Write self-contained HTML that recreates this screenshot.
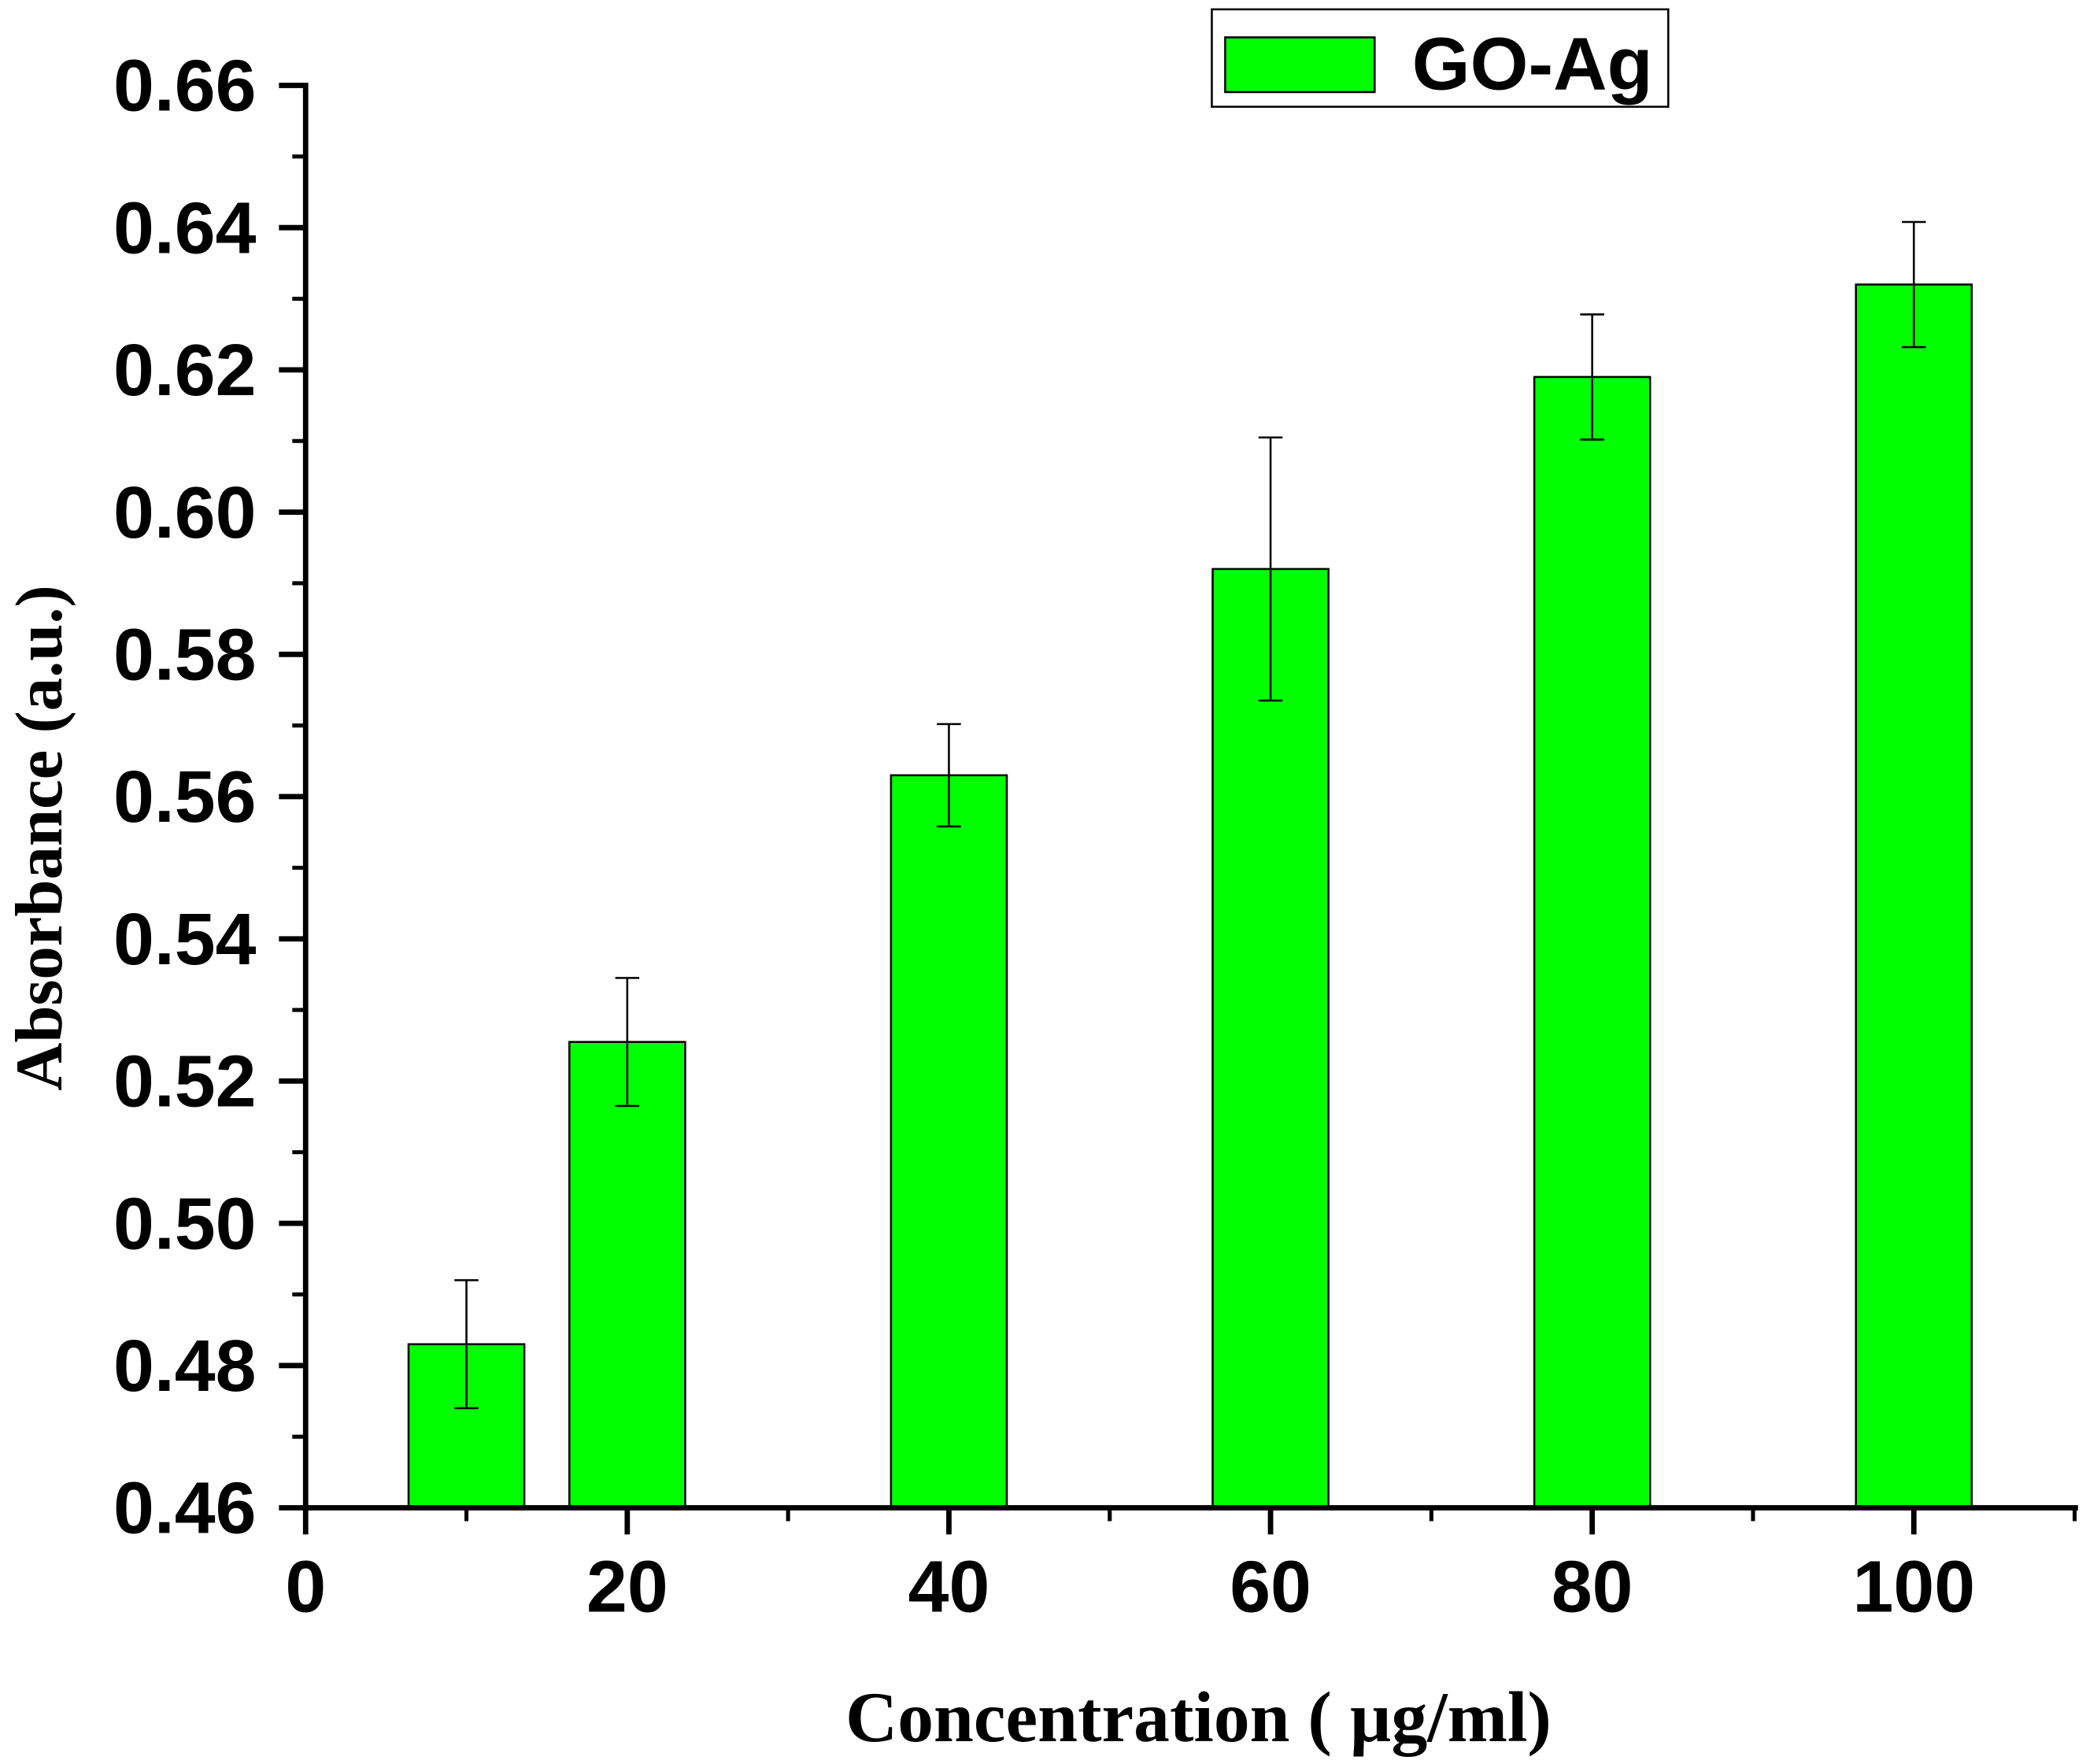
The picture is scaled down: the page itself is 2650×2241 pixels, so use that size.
<!DOCTYPE html>
<html><head><meta charset="utf-8"><style>
html,body{margin:0;padding:0;background:#fff;}
svg{display:block;}
</style></head><body>
<svg id="chart" xmlns="http://www.w3.org/2000/svg" width="2650" height="2241" viewBox="0 0 1563 1322" preserveAspectRatio="none">
<rect width="1563" height="1322" fill="#fff"/>
<g id="marks"></g>
<g id="axes"></g>
<g>
<rect x="908" y="7" width="342" height="73" fill="#fff" stroke="#000" stroke-width="1.5"/>
<rect x="918" y="28" width="112" height="41" fill="#00ff00" stroke="#000" stroke-width="1.5"/>
<text x="1058" y="67" font-family="Liberation Sans, sans-serif" font-weight="bold" font-size="56">GO-Ag</text>
</g>
<text transform="translate(46,628) rotate(-90)" text-anchor="middle" font-family="Liberation Serif, serif" font-weight="bold" font-size="50">Absorbance (a.u.)</text>
<text x="898" y="1305" text-anchor="middle" font-family="Liberation Serif, serif" font-weight="bold" font-size="54">Concentration ( µg/ml)</text>
</svg>
<script>
const categories = [10, 20, 40, 60, 80, 100];
const values = [0.483, 0.5255, 0.563, 0.592, 0.619, 0.632];
const errors = [0.009, 0.009, 0.0072, 0.0185, 0.0088, 0.0088];
const yTicks = ["0.46","0.48","0.50","0.52","0.54","0.56","0.58","0.60","0.62","0.64","0.66"];
const xTicks = ["0","20","40","60","80","100"];

const NS = "http://www.w3.org/2000/svg";
const X0 = 229, X1 = 1434;
const Y0 = 1130, Y1 = 64;
function xs(v){ return X0 + (v/100)*(X1-X0); }
function ys(v){ return Y0 - (v-0.46)/0.2*(Y0-Y1); }
function mk(tag, attrs, parent){ const e=document.createElementNS(NS,tag); for(const k in attrs) e.setAttribute(k,attrs[k]); parent.appendChild(e); return e; }

const marks = document.getElementById('marks');
const barW = xs(7.2) - xs(0);
categories.forEach((c,i)=>{
  const b = mk('rect',{x:xs(c)-barW/2, y:ys(values[i]), width:barW, height:Y0-ys(values[i]), fill:'#00ff00', stroke:'#000', 'stroke-width':1.5}, marks);
  
  
  const cx = xs(c), hi = ys(values[i]+errors[i]), lo = ys(values[i]-errors[i]);
  const g = mk('g',{stroke:'#000','stroke-width':1.5}, marks);
  
  
  mk('line',{x1:cx,y1:hi,x2:cx,y2:lo},g);
  mk('line',{x1:cx-9,y1:hi,x2:cx+9,y2:hi},g);
  mk('line',{x1:cx-9,y1:lo,x2:cx+9,y2:lo},g);
});

const axes = document.getElementById('axes');
const ya = mk('line',{x1:X0,y1:Y1-2,x2:X0,y2:Y0+2,stroke:'#000','stroke-width':4},axes);


const xa = mk('line',{x1:X0-2,y1:Y0,x2:1557,y2:Y0,stroke:'#000','stroke-width':4},axes);


yTicks.forEach((t,i)=>{
  const v = parseFloat(t), y = ys(v);
  mk('line',{x1:X0-20,y1:y,x2:X0,y2:y,stroke:'#000','stroke-width':4},axes);
  if(i<yTicks.length-1){ const ym=ys(v+0.01); mk('line',{x1:X0-10,y1:ym,x2:X0,y2:ym,stroke:'#000','stroke-width':3},axes); }
  const tx = mk('text',{x:192,y:y+19,'text-anchor':'end','font-family':'Liberation Sans, sans-serif','font-weight':'bold','font-size':55},axes);
  tx.textContent = t;
  
  
});
xTicks.forEach((t,i)=>{
  const v = parseFloat(t), x = xs(v);
  mk('line',{x1:x,y1:Y0,x2:x,y2:Y0+20,stroke:'#000','stroke-width':4},axes);
  const xm = xs(v+10); mk('line',{x1:xm,y1:Y0,x2:xm,y2:Y0+10,stroke:'#000','stroke-width':3},axes);
  const tx = mk('text',{x:x,y:1208,'text-anchor':'middle','font-family':'Liberation Sans, sans-serif','font-weight':'bold','font-size':55},axes);
  tx.textContent = t;
  
  
});
</script>
</body></html>
